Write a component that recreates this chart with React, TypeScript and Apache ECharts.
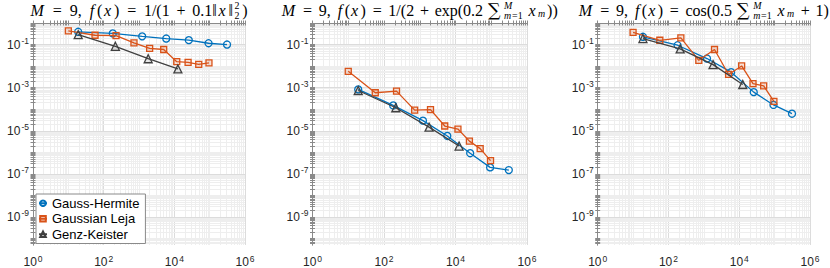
import React, { useEffect, useRef } from 'react';
import * as echarts from 'echarts';

// ---- data (number of points N, error) ----
const ghN = [19, 181, 1230, 5900, 25700, 93000, 310000];
const glN = [10, 57, 224, 720, 2000, 5000, 11700, 24500, 49000, 95500];
const gkN = [19, 214, 1820, 12600];

const gh1 = [0.39, 0.33, 0.24, 0.19, 0.16, 0.115, 0.1];
const gl1 = [0.43, 0.27, 0.26, 0.12, 0.067, 0.059, 0.016, 0.015, 0.012, 0.014];
const gk1 = [0.29, 0.083, 0.022, 0.0074];

const gh2 = [8.3e-4, 1.5e-4, 2.95e-5, 5.75e-6, 9.1e-7, 2.0e-7, 1.5e-7];
const gl2 = [5.75e-3, 5.8e-4, 6.9e-4, 9.1e-5, 9.5e-5, 1.66e-5, 1.2e-5, 3.3e-6, 1.48e-6, 4.1e-7];
const gk2 = [7.4e-4, 1.17e-4, 1.48e-5, 1.95e-6];

const gh3 = [0.229, 0.093, 0.0224, 5.25e-3, 6.2e-4, 1.58e-4, 6.2e-5];
const gl3 = [0.37, 0.158, 0.204, 0.0186, 0.059, 4.1e-3, 0.0102, 1.55e-3, 1.2e-3, 2.3e-4];
const gk3 = [0.19, 0.063, 0.0117, 1.4e-3];

const seriesNames = ['Gauss-Hermite', 'Gaussian Leja', 'Genz-Keister'];
const xLabelExps = [0, 2, 4, 6];
const yLabelExps = [-9, -7, -5, -3, -1];
const X_MIN = 0, X_MAX = 6, Y_MIN = -10.3, Y_MAX = 0;

const panels = [
  { gh: gh1, gl: gl1, gk: gk1 },
  { gh: gh2, gl: gl2, gk: gk2 },
  { gh: gh3, gl: gl3, gk: gk3 },
];

// ---- layout / style ----
const grids = [
  { left: 33, width: 212 },
  { left: 312.5, width: 214.5 },
  { left: 597.7, width: 212.3 },
];
const titleWidths = [217, 276, 250];
const GRID_TOP = 23, GRID_H = 223;
const SANS = '"Liberation Sans", Arial, sans-serif';
const SERIF = '"Liberation Serif", "DejaVu Serif", serif';
const colors = ['#0072BD', '#D95319', '#404040'];
const fills = ['rgba(255,255,255,0)', 'rgba(217,83,25,0.18)', 'rgba(64,64,64,0.12)'];
const symbols = ['circle', 'rect', 'triangle'];
const symSizes = [7, 6, 8];

type Seg = { t?: string; i?: boolean; s?: number; dy?: number; g?: number; f?: string; stack?: [Seg[], Seg[]] };

const SC = 0.62;
const SUP_DY = -5, SUB_DY = 5;
const head: Seg[] = [
  { t: 'M', i: true }, { g: 0.28 }, { t: '=' }, { g: 0.28 }, { t: '9,' }, { g: 0.3 },
  { t: 'f', i: true }, { t: '(' }, { t: 'x', i: true }, { t: ')' }, { g: 0.28 }, { t: '=' }, { g: 0.28 },
];
const sumPart: Seg[] = [
  { t: '∑', s: 1.1, f: '"DejaVu Serif", serif' }, { g: 0.08 },
  { stack: [[{ t: 'M', i: true, s: SC }], [{ t: 'm', i: true, s: SC }, { t: '=1', s: SC }]] },
  { g: 0.17 }, { t: 'x', i: true }, { t: 'm', i: true, s: SC, dy: 3.5 },
];
const titles: Seg[][] = [
  [
    ...head, { t: '1/(1' }, { g: 0.22 }, { t: '+' }, { g: 0.22 }, { t: '0.1‖' }, { t: 'x', i: true }, { t: '‖' },
    { stack: [[{ t: '2', s: SC }], [{ t: '2', s: SC }]] }, { t: ')' },
  ],
  [
    ...head, { t: '1/(2' }, { g: 0.22 }, { t: '+' }, { g: 0.22 }, { t: 'exp(0.2' }, { g: 0.17 },
    ...sumPart, { t: '))' },
  ],
  [
    ...head, { t: 'cos(0.5' }, { g: 0.17 }, ...sumPart, { g: 0.22 }, { t: '+' }, { g: 0.22 }, { t: '1)' },
  ],
];

const TITLE_SIZE = 16;
const TITLE_Y = 10;
const ITALIC_PAD = 0.08; // extra advance after italic letters (em)

function fontOf(seg: Seg) {
  const size = TITLE_SIZE * (seg.s || 1);
  return `${seg.i ? 'italic ' : ''}${size}px ${seg.f || SERIF}`;
}

function buildTitle(segs: Seg[], centerX: number, target: number, ctx: CanvasRenderingContext2D) {
  const segW = (s: Seg) => {
    if (s.g) return s.g * TITLE_SIZE;
    ctx.font = fontOf(s);
    return ctx.measureText(s.t || '').width + (s.i ? ITALIC_PAD * TITLE_SIZE * (s.s || 1) : 0);
  };
  const listW = (list: Seg[]) => list.reduce((a, s) => a + segW(s), 0);
  let natural = 0;
  for (const seg of segs) {
    natural += seg.stack ? Math.max(listW(seg.stack[0]), listW(seg.stack[1])) + 1 : segW(seg);
  }
  // spread any remaining difference evenly between top-level segments
  const extra = Math.max(0, target - natural) / Math.max(1, segs.length - 1);

  const items: { text: string; font: string; x: number; y: number }[] = [];
  let cursor = 0;
  const place = (list: Seg[], start: number, dy: number) => {
    let c = start;
    for (const s of list) {
      const w = segW(s);
      if (!s.g) items.push({ text: s.t || '', font: fontOf(s), x: c, y: TITLE_Y + dy + (s.dy || 0) });
      c += w;
    }
    return c - start;
  };
  segs.forEach((seg, idx) => {
    if (seg.stack) {
      const w1 = place(seg.stack[0], cursor, SUP_DY);
      const w2 = place(seg.stack[1], cursor, SUB_DY);
      cursor += Math.max(w1, w2) + 1;
    } else {
      cursor += place([seg], cursor, 0);
    }
    if (idx < segs.length - 1) cursor += extra;
  });
  const offset = centerX - cursor / 2;
  return items.map((it) => ({
    type: 'text',
    x: it.x + offset,
    y: it.y,
    silent: true,
    z: 20,
    style: { text: it.text, font: it.font, fill: '#000', verticalAlign: 'middle', align: 'left' },
  }));
}

function logTicks(lo: number, hi: number) {
  const out: number[] = [];
  for (let n = Math.floor(lo) - 1; n <= Math.ceil(hi); n++) {
    for (let k = 1; k <= 9; k++) {
      const v = n + Math.log10(k);
      if (v >= lo - 1e-9 && v <= hi + 1e-9) out.push(v);
    }
  }
  return out;
}

const supRich = {
  b: { fontSize: 12, fontFamily: SANS, color: '#262626' },
  s: { fontSize: 8.5, fontFamily: SANS, color: '#262626', padding: [0, 0, 7, 1] },
};
const expFmt = (v: number) => `{b|10}{s|${Math.round(v)}}`;

export default function App() {
  const ref = useRef<HTMLDivElement>(null);
  useEffect(() => {
    if (!ref.current) return;
    const chart = echarts.init(ref.current, null, { renderer: 'svg' });
    const canvas = document.createElement('canvas');
    const ctx = canvas.getContext('2d') as CanvasRenderingContext2D;

    const xTicks = logTicks(X_MIN, X_MAX);
    const yTicks = logTicks(Y_MIN, Y_MAX);
    const axisLine = { show: true, lineStyle: { color: '#8a8a8a', width: 1 } };
    const tickStyle = { show: true, inside: true, length: 2.5, lineStyle: { color: '#8a8a8a', width: 1 } };

    const xAxes: any[] = [];
    const yAxes: any[] = [];
    const series: any[] = [];
    const graphics: any[] = [];

    panels.forEach((p, i) => {
      xAxes.push({
        gridIndex: i, type: 'value', min: X_MIN, max: X_MAX, position: 'bottom', z: 5,
        axisLine, axisTick: { ...tickStyle, customValues: xTicks },
        axisLabel: { customValues: xLabelExps, formatter: expFmt, rich: supRich, margin: 9 },
        splitLine: { show: false },
      });
      xAxes.push({
        gridIndex: i, type: 'value', min: X_MIN, max: X_MAX, position: 'top', z: 5,
        axisLine, axisTick: { ...tickStyle, customValues: xTicks },
        axisLabel: { show: false }, splitLine: { show: false },
      });
      yAxes.push({
        gridIndex: i, type: 'value', min: Y_MIN, max: Y_MAX, position: 'left', z: 5,
        axisLine, axisTick: { ...tickStyle, customValues: yTicks },
        axisLabel: { customValues: yLabelExps, formatter: expFmt, rich: supRich, margin: 4 },
        splitLine: { show: false },
      });
      yAxes.push({
        gridIndex: i, type: 'value', min: Y_MIN, max: Y_MAX, position: 'right', z: 5,
        axisLine, axisTick: { ...tickStyle, customValues: yTicks },
        axisLabel: { show: false }, splitLine: { show: false },
      });

      const xi = 2 * i, yi = 2 * i;
      const gridLines: any[] = [];
      xTicks.forEach((v) => {
        const major = xLabelExps.some((e) => Math.abs(e - v) < 1e-9);
        gridLines.push({ xAxis: v, lineStyle: { color: major ? '#dcdcdc' : '#eeeeee', width: 1, type: 'solid' } });
      });
      yTicks.forEach((v) => {
        const major = yLabelExps.some((e) => Math.abs(e - v) < 1e-9);
        gridLines.push({ yAxis: v, lineStyle: { color: major ? '#dcdcdc' : '#eeeeee', width: 1, type: 'solid' } });
      });
      series.push({
        type: 'line', name: '__grid' + i, xAxisIndex: xi, yAxisIndex: yi, data: [], silent: true, z: 0,
        markLine: { silent: true, z: 0, symbol: 'none', label: { show: false }, animation: false, data: gridLines },
      });

      const sets = [
        { n: ghN, e: p.gh },
        { n: glN, e: p.gl },
        { n: gkN, e: p.gk },
      ];
      sets.forEach((s, k) => {
        series.push({
          type: 'line', name: seriesNames[k], xAxisIndex: xi, yAxisIndex: yi, z: 2 + k * 0.5,
          data: s.n.map((n, j) => [Math.log10(n), Math.log10(s.e[j])]),
          symbol: symbols[k], symbolSize: symSizes[k], showSymbol: true,
          lineStyle: { color: colors[k], width: 1.3 },
          itemStyle: { color: fills[k], borderColor: colors[k], borderWidth: 1.3 },
        });
      });

      const g = grids[i];
      graphics.push(...buildTitle(titles[i], g.left + g.width / 2, titleWidths[i], ctx));
    });

    chart.setOption({
      animation: false,
      grid: grids.map((g) => ({ left: g.left, width: g.width, top: GRID_TOP, height: GRID_H })),
      xAxis: xAxes,
      yAxis: yAxes,
      series,
      legend: {
        data: seriesNames,
        orient: 'vertical',
        left: 36, top: 194, z: 10,
        itemWidth: 8, itemHeight: 7, itemGap: 1,
        padding: [2, 6, 2, 2],
        backgroundColor: '#fff',
        borderColor: '#8a8a8a', borderWidth: 1, borderRadius: 0,
        textStyle: { fontFamily: SANS, fontSize: 13, color: '#000', lineHeight: 14.5 },
      },
      graphic: graphics,
    });
    return () => chart.dispose();
  }, []);
  return <div ref={ref} style={{ position: 'fixed', left: 0, top: 0, width: 830, height: 268, background: '#fff' }} />;
}
